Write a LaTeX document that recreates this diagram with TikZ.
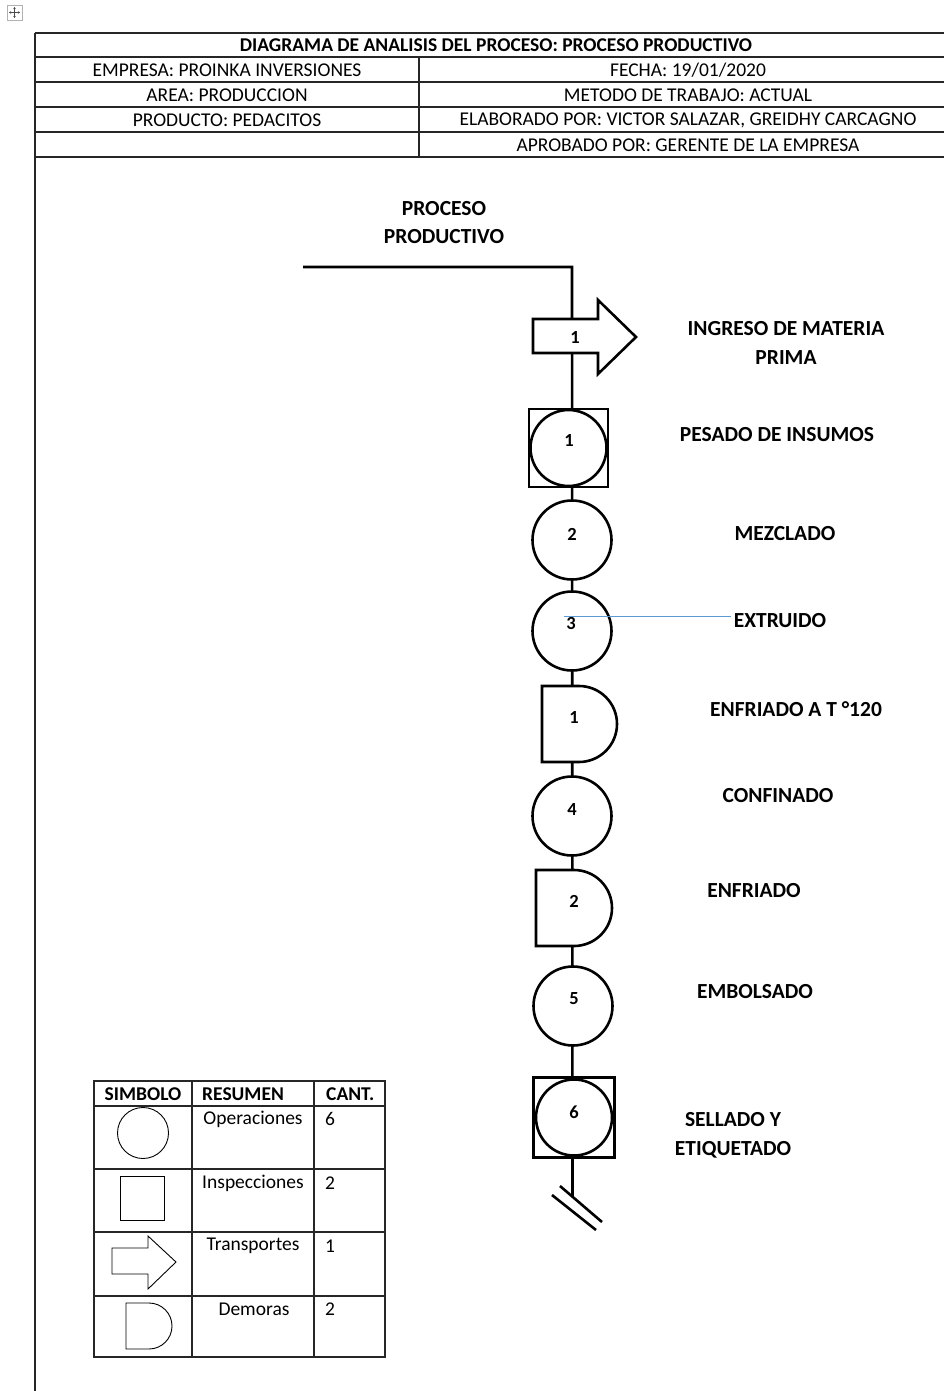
\documentclass[tikz,border=0pt]{standalone}
\usepackage{fontspec}
\setmainfont{Carlito}
\usetikzlibrary{arrows.meta,backgrounds}
\begin{document}
\begin{tikzpicture}[x=1pt,y=-1pt,
  tline/.style={line width=1.3pt, black!85},
  hdr/.style={font=\fontsize{19.5}{22}\selectfont, inner sep=0pt},
  hdrb/.style={font=\fontsize{19.5}{22}\selectfont\bfseries, inner sep=0pt},
  lbl/.style={font=\fontsize{21.5}{28.5}\selectfont\bfseries, inner sep=0pt, align=center},
  num/.style={font=\fontsize{18.5}{20}\selectfont\bfseries, inner sep=0pt},
  shp/.style={draw, line width=2.6pt, fill=white},
  opc/.style={shp, circle, minimum size=79pt, inner sep=0pt},
  insq/.style={shp, rectangle, inner sep=0pt},
  spine/.style={line width=2.6pt},
  lgd/.style={draw, line width=0.9pt},
  bluel/.style={line width=1pt, draw={rgb,255:red,91;green,155;blue,213}}
]
\useasboundingbox (0,0) rectangle (943,1391);

% move handle icon
\draw[gray!60, line width=0.8pt] (7,5) rectangle (22,20);
\coordinate (ic) at (14.5,12.5);
\foreach \dx/\dy in {0/-5.5,0/5.5,-5.5/0,5.5/0}
  \draw[black!70, line width=0.6pt, -{Stealth[length=2pt,width=2.5pt]}] (ic) -- ++(\dx,\dy);

% header table
\draw[tline] (35,33) -- (960,33);
\foreach \yy in {57,82,107,132,157} \draw[tline] (35,\yy) -- (960,\yy);
\draw[tline] (35,33) -- (35,1391);
\draw[tline] (419,57) -- (419,157);
\node[hdrb] (title) at (496,45) {DIAGRAMA DE ANALISIS DEL PROCESO: PROCESO PRODUCTIVO};
\node[hdr] (emp) at (227,70) {EMPRESA: PROINKA INVERSIONES};
\node[hdr] (area) at (227,95) {AREA: PRODUCCION};
\node[hdr] (prod) at (227,120) {PRODUCTO: PEDACITOS};
\node[hdr] (fecha) at (688,70) {FECHA: 19/01/2020};
\node[hdr] (met) at (688,95) {METODO DE TRABAJO: ACTUAL};
\node[hdr] (elab) at (688,120) {ELABORADO POR: VICTOR SALAZAR, GREIDHY CARCAGNO};
\node[hdr] (apro) at (688,145) {APROBADO POR: GERENTE DE LA EMPRESA};

% process title
\node[lbl] (ptitle) at (444,222.5) {PROCESO\\PRODUCTIVO};

% coordinates of the spine
\coordinate (start) at (303,267);
\coordinate (corner) at (572,267);
\coordinate (endc) at (572.5,1197);

% transport arrow
\draw[shp] (533,319) -- (598,319) -- (598,300) -- (636,337) -- (598,374) -- (598,353) -- (533,353) -- cycle;
\node[num] (ntr1) at (575,337) {1};

% inspection 1
\node[insq, minimum width=79pt, minimum height=78pt] (insp1) at (568.5,448) {};
\node[opc, minimum size=76pt] (insp1c) at (568.5,448) {};
\node[num] (ninsp1) at (569,440) {1};

% operations
\node[opc] (op2) at (572,540) {};
\node[num] (nop2) at (572,534) {2};
\node[opc] (op3) at (572,631) {};
\node[num] (nop3) at (571,623) {3};

% delay 1
\draw[shp] (542,686) -- (579,686) arc[start angle=-90, end angle=90, radius=38] -- (542,762) -- cycle;
\node[num] (ndl1) at (574,717) {1};

\node[opc] (op4) at (572,816) {};
\node[num] (nop4) at (572,809) {4};

% delay 2
\draw[shp] (536,870) -- (574,870) arc[start angle=-90, end angle=90, radius=38] -- (536,946) -- cycle;
\node[num] (ndl2) at (574,901) {2};

\node[opc] (op5) at (573,1006) {};
\node[num] (nop5) at (574,999) {5};

% inspection 6
\node[insq, minimum width=81pt, minimum height=80pt] (insp6) at (574,1117.5) {};
\node[opc, minimum size=76pt] (insp6c) at (574,1117.5) {};
\node[num] (ninsp6) at (574,1112) {6};

% spine connector (behind shapes)
\begin{scope}[on background layer]
\draw[spine] (start) -- (corner) -- (endc);
\end{scope}

% break marks at the end
\coordinate (b1a) at (560,1186);
\coordinate (b1b) at (602,1222);
\coordinate (b2a) at (552,1195);
\coordinate (b2b) at (596,1230);
\draw[spine] (b1a) -- (b1b);
\draw[spine] (b2a) -- (b2b);

% blue line
\coordinate (blA) at (564,616);
\coordinate (blB) at (731,616);
\draw[bluel] (blA) -- (blB);

% step labels
\node[lbl] (l1) at (786,343) {INGRESO DE MATERIA\\PRIMA};
\node[lbl] (l2) at (777,435) {PESADO DE INSUMOS};
\node[lbl] (l3) at (785,534) {MEZCLADO};
\node[lbl] (l4) at (780,621) {EXTRUIDO};
\node[lbl] (l5) at (796,709) {ENFRIADO A T °120};
\node[lbl] (l6) at (778,796) {CONFINADO};
\node[lbl] (l7) at (754,891) {ENFRIADO};
\node[lbl] (l8) at (755,992) {EMBOLSADO};
\node[lbl] (l9) at (733,1135.5) {SELLADO Y\\ETIQUETADO};

% legend table
\draw[tline] (94,1081) rectangle (385,1357);
\foreach \yy in {1106,1169,1232,1296} \draw[tline] (94,\yy) -- (385,\yy);
\draw[tline] (192,1081) -- (192,1357);
\draw[tline] (314,1081) -- (314,1357);
\node[hdrb] (hs) at (143,1094) {SIMBOLO};
\node[hdrb, anchor=west] (hr) at (202,1094) {RESUMEN};
\node[hdrb, anchor=west] (hc) at (326,1094) {CANT.};
\node[hdr] (t1) at (253,1119) {Operaciones};
\node[hdr] (t2) at (253,1183) {Inspecciones};
\node[hdr] (t3) at (253,1246) {Transportes};
\node[hdr] (t4) at (254,1309) {Demoras};
\node[hdr, anchor=west] (c1) at (325,1119) {6};
\node[hdr, anchor=west] (c2) at (325,1183) {2};
\node[hdr, anchor=west] (c3) at (325,1246) {1};
\node[hdr, anchor=west] (c4) at (325,1309) {2};
\node[lgd, circle, minimum size=51pt, inner sep=0pt] (lgop) at (143,1133) {};
\node[lgd, rectangle, minimum width=44pt, minimum height=44pt, inner sep=0pt] (lgin) at (142,1198) {};
\draw[lgd] (112,1248) -- (148,1248) -- (148,1236) -- (176,1262) -- (148,1289) -- (148,1274) -- (112,1274) -- cycle;
\draw[lgd] (126,1303) -- (149,1303) arc[start angle=-90, end angle=90, radius=23] -- (126,1349) -- cycle;
\end{tikzpicture}
\end{document}
